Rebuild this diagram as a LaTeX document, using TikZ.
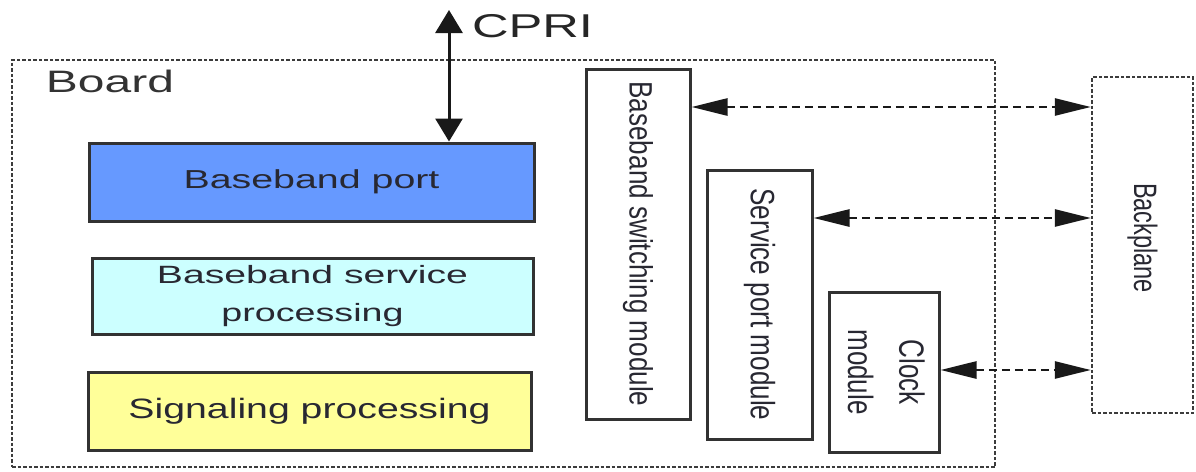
\documentclass[tikz,border=0pt]{standalone}
\usepackage{fontspec}
\setmainfont{Liberation Sans}
\usetikzlibrary{arrows.meta,calc}
\definecolor{portblue}{RGB}{102,153,255}
\definecolor{svccyan}{RGB}{204,255,255}
\definecolor{sigyellow}{RGB}{255,255,153}
\definecolor{edgegray}{RGB}{50,50,50}
\definecolor{txtgray}{RGB}{40,40,50}
\definecolor{dotgray}{RGB}{60,60,60}
\tikzset{
  blockbox/.style={draw=edgegray, line width=3pt, rectangle, inner sep=0pt, text=txtgray},
  dotbox/.style={draw=dotgray, line width=2.4pt, dash pattern=on 3.5pt off 2pt, rectangle, inner sep=0pt, text=txtgray},
  linkarrow/.style={line width=2.6pt, dash pattern=on 8pt off 5pt, color=black!90,
    {Triangle[length=36pt,width=17pt]}-{Triangle[length=36pt,width=17pt]}},
  cpriarrow/.style={line width=3pt, color=black!90,
    {Triangle[length=23pt,width=27pt]}-{Triangle[length=23pt,width=27pt]}},
}
\begin{document}
\begin{tikzpicture}[x=1pt,y=-1pt]
\useasboundingbox[fill=white] (0,0) rectangle (1196,471);

% Board frame
\node[dotbox, minimum width=983pt, minimum height=407pt] (board) at (503.5,263.5) {};
\node[anchor=base, text=black!80, font=\fontsize{31}{37}\selectfont] (boardlbl) at (110,92)
  {\resizebox{128pt}{\height}{Board}};

% Left blocks
\node[blockbox, fill=portblue, minimum width=445pt, minimum height=78pt,
  font=\fontsize{26}{31}\selectfont] (bport) at (311.5,182)
  {\resizebox{256pt}{\height}{Baseband port}};
\node[blockbox, fill=svccyan, minimum width=441pt, minimum height=76pt, align=center,
  font=\fontsize{25}{38}\selectfont] (bsp) at (312.5,296)
  {\resizebox{311pt}{\height}{Baseband service}\\\resizebox{182pt}{\height}{processing}};
\node[blockbox, fill=sigyellow, minimum width=443pt, minimum height=78pt,
  font=\fontsize{28}{33}\selectfont] (sig) at (309.5,411)
  {\resizebox{362pt}{\height}{Signaling processing}};

% Vertical modules
\node[blockbox, fill=white, minimum width=104pt, minimum height=350pt,
  font=\fontsize{24}{29}\selectfont] (bsw) at (638,244)
  {\rotatebox{-90}{\resizebox{325pt}{1.35\height}{Baseband switching module}}};
\node[blockbox, fill=white, minimum width=105pt, minimum height=269pt,
  font=\fontsize{25}{30}\selectfont] (spm) at (759.5,304.5)
  {\rotatebox{-90}{\resizebox{232pt}{1.35\height}{Service port module}}};
\node[blockbox, fill=white, minimum width=110pt, minimum height=160pt,
  font=\fontsize{26}{38}\selectfont] (clk) at (884,372)
  {\rotatebox{-90}{\scalebox{1}[1.35]{\begin{tabular}{@{}c@{}}Clock\\module\end{tabular}}}};

% Backplane
\node[dotbox, fill=white, minimum width=101pt, minimum height=336pt,
  font=\fontsize{24}{29}\selectfont] (bp) at (1142.5,245)
  {\rotatebox{-90}{\resizebox{110pt}{1.35\height}{Backplane}\hspace{14pt}}};

% CPRI
\coordinate (cpritop) at (449,10);
\draw[cpriarrow] (cpritop) -- (cpritop |- bport.north);
\node[anchor=base, text=black!85, font=\fontsize{33}{40}\selectfont] (cprilbl) at (532.5,37)
  {\resizebox{121pt}{\height}{CPRI}};

% Links to backplane
\coordinate (l1) at (0,107);
\coordinate (l2) at (0,218);
\coordinate (l3) at (0,370);
\draw[linkarrow] (l1 -| bsw.east) -- (l1 -| bp.west);
\draw[linkarrow] (l2 -| spm.east) -- (l2 -| bp.west);
\draw[linkarrow] (l3 -| clk.east) -- (l3 -| bp.west);
\end{tikzpicture}
\end{document}
